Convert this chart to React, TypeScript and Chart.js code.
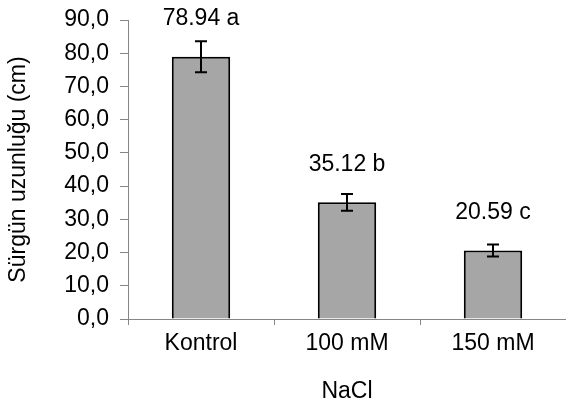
import React, { useEffect, useRef } from "react";
import { Chart, registerables } from "chart.js";

Chart.register(...registerables);

const categories = ["Kontrol", "100 mM", "150 mM"];
const values = [78.94, 35.12, 20.59];
const errors = [4.7, 2.5, 1.8];
const letters = ["a", "b", "c"];
const yTicks = [0, 10, 20, 30, 40, 50, 60, 70, 80, 90];

const FONT = "'Liberation Sans', Arial, sans-serif";
const FS = 23;

const overlayPlugin = {
  id: "errLabels",
  afterDatasetsDraw(chart: any) {
    const ctx = chart.ctx;
    const meta = chart.getDatasetMeta(0);
    const y = chart.scales.y;
    ctx.save();
    meta.data.forEach((bar: any, i: number) => {
      const x = bar.x;
      const top = y.getPixelForValue(values[i] + errors[i]);
      const bot = y.getPixelForValue(values[i] - errors[i]);
      ctx.strokeStyle = "#000";
      ctx.lineWidth = 2;
      ctx.beginPath();
      ctx.moveTo(x, top);
      ctx.lineTo(x, bot);
      ctx.moveTo(x - 6, top);
      ctx.lineTo(x + 6, top);
      ctx.moveTo(x - 6, bot);
      ctx.lineTo(x + 6, bot);
      ctx.stroke();
      ctx.fillStyle = "#000";
      ctx.font = `${FS}px ${FONT}`;
      ctx.textAlign = "center";
      ctx.textBaseline = "middle";
      ctx.fillText(
        `${values[i].toFixed(2)} ${letters[i]}`,
        x,
        y.getPixelForValue(values[i]) - 38
      );
    });
    ctx.restore();
  },
};

export default function App() {
  const ref = useRef<HTMLCanvasElement>(null);
  useEffect(() => {
    if (!ref.current) return;
    const chart = new Chart(ref.current, {
      type: "bar",
      data: {
        labels: categories,
        datasets: [
          {
            data: values,
            backgroundColor: "#a6a6a6",
            borderColor: "#000",
            borderWidth: 2,
            categoryPercentage: 0.4,
            barPercentage: 1,
          },
        ],
      },
      options: {
        animation: false,
        responsive: false,
        maintainAspectRatio: false,
        layout: { padding: { top: 20, left: 0, right: 0, bottom: 0 } },
        plugins: { legend: { display: false }, tooltip: { enabled: false } },
        scales: {
          x: {
            grid: {
              offset: true,
              drawOnChartArea: false,
              drawTicks: true,
              tickLength: 6,
              color: "#868686",
            },
            border: { color: "#868686", width: 1 },
            ticks: {
              color: "#000",
              font: { family: FONT, size: FS },
              padding: 5,
            },
            title: {
              display: true,
              text: "NaCl",
              color: "#000",
              font: { family: FONT, size: FS },
              padding: { top: 0, bottom: 0 },
            },
            afterFit: (s: any) => {
              s.height = 86;
              s.paddingLeft = 0;
              s.paddingRight = 0;
            },
          },
          y: {
            min: 0,
            max: 90,
            afterBuildTicks: (s: any) => {
              s.ticks = yTicks.map((v) => ({ value: v }));
            },
            grid: {
              drawOnChartArea: false,
              drawTicks: true,
              tickLength: 8,
              color: "#868686",
            },
            border: { color: "#868686", width: 1 },
            ticks: {
              color: "#000",
              font: { family: FONT, size: FS },
              padding: 11,
              callback: (v: any) => Number(v).toFixed(1).replace(".", ","),
            },
            title: {
              display: true,
              text: "Sürgün uzunluğu (cm)",
              color: "#000",
              font: { family: FONT, size: FS },
              padding: { top: 5, bottom: 0 },
            },
            afterFit: (s: any) => {
              s.width = 128;
              s.paddingTop = 0;
              s.paddingBottom = 0;
            },
          },
        },
      },
      plugins: [overlayPlugin],
    });
    return () => chart.destroy();
  }, []);
  return (
    <div style={{ position: "fixed", left: 0, top: 0, width: 566, height: 405, background: "#fff" }}>
      <canvas ref={ref} width={566} height={405} />
    </div>
  );
}
